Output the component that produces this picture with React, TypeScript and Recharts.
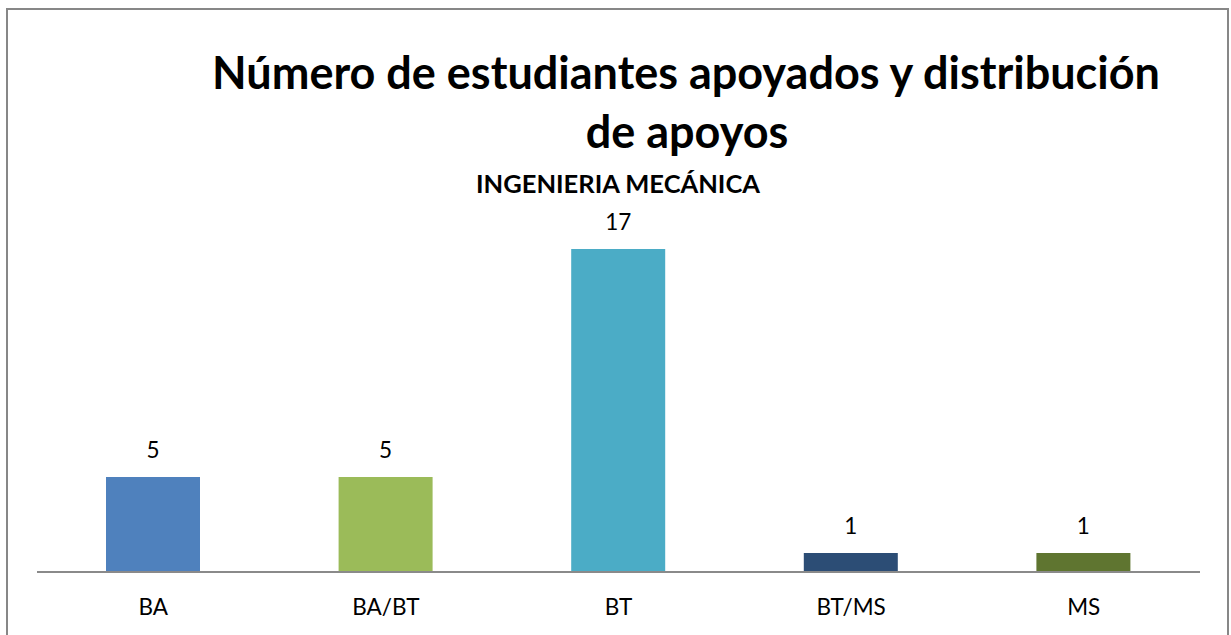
import { BarChart, Bar, XAxis, YAxis, Cell, LabelList } from "recharts";

const categories = ["BA", "BA/BT", "BT", "BT/MS", "MS"];
const students = [5, 5, 17, 1, 1];
const COLORS = ["#4F81BD", "#9BBB59", "#4BACC6", "#2C4D75", "#5F7530"];

const titleLines = ["Número de estudiantes apoyados y distribución", "de apoyos"];
const subtitle = "INGENIERIA MECÁNICA";

const data = categories.map((name, i) => ({ name, value: students[i] }));

const FONT = "Lato, 'Open Sans', sans-serif";

export default function App() {
  return (
    <div
      style={{
        position: "absolute",
        left: 6,
        top: 8,
        width: 1219,
        height: 636,
        border: "2px solid #878787",
        background: "#fff",
        fontFamily: FONT,
      }}
    >
      <BarChart
        width={1219}
        height={636}
        data={data}
        margin={{ top: 220, right: 27, left: 29, bottom: 44 }}
      >
        <XAxis
          dataKey="name"
          height={30}
          tickLine={false}
          tickSize={0}
          tickMargin={0}
          axisLine={{ stroke: "#8a8a8a", strokeWidth: 2 }}
          tick={(p: any) => (
            <text
              x={p.x}
              y={p.y + 43}
              textAnchor="middle"
              fontSize={22.5}
              fontFamily={FONT}
              fill="#000"
            >
              {p.payload.value}
            </text>
          )}
        />
        <YAxis hide domain={[0, 18]} />
        <Bar dataKey="value" barSize={94} isAnimationActive={false}>
          {data.map((_, i) => (
            <Cell key={i} fill={COLORS[i]} />
          ))}
          <LabelList
            dataKey="value"
            content={(p: any) => (
              <text
                x={p.x + p.width / 2}
                y={p.y - 19}
                textAnchor="middle"
                fontSize={22.5}
                fontFamily={FONT}
                fill="#000"
              >
                {p.value}
              </text>
            )}
          />
        </Bar>
      </BarChart>
      <svg
        width={1219}
        height={636}
        style={{ position: "absolute", left: 0, top: 0, pointerEvents: "none" }}
      >
        <text x={678} y={79} textAnchor="middle" fontSize={45} fontWeight="bold" fontFamily={FONT}>
          {titleLines[0]}
        </text>
        <text x={679} y={138} textAnchor="middle" fontSize={45} fontWeight="bold" fontFamily={FONT}>
          {titleLines[1]}
        </text>
        <text x={610} y={183} textAnchor="middle" fontSize={25.5} fontWeight="bold" fontFamily={FONT}>
          {subtitle}
        </text>
      </svg>
    </div>
  );
}
